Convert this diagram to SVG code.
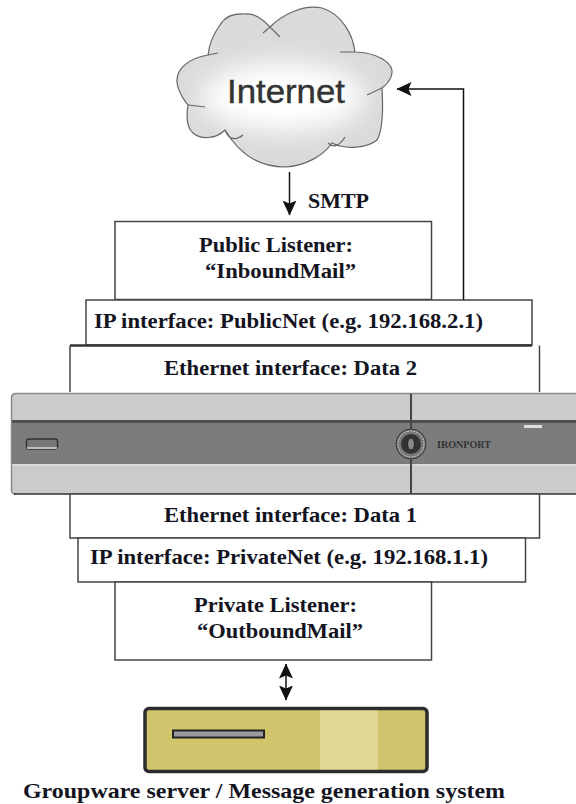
<svg xmlns="http://www.w3.org/2000/svg" width="576" height="804" viewBox="0 0 576 804">
<style>
.b{fill:#fff;stroke:#444;stroke-width:1.5}
.t{font-family:"Liberation Serif",serif;font-weight:bold;font-size:21px;fill:#14141f}
.c{fill:none;stroke:#111;stroke-width:1.5}
.k{fill:none;stroke:#666;stroke-width:1.2}
</style>
<defs>
<marker id="a" viewBox="0 0 15 14" refX="14.500" refY="7" markerWidth="15" markerHeight="14" markerUnits="userSpaceOnUse" orient="auto-start-reverse"><path d="M0 0L15 7L0 14L3 7Z" fill="#111"/></marker>
<filter id="soft" x="-30%" y="-50%" width="160%" height="200%"><feGaussianBlur stdDeviation="13"/></filter>
<clipPath id="cloudclip"><path d="M270 27C260 16 252 13 245 14C232 13 224 18 220 25C212 36 209 46 208 55C190 58 176 68 177 82C178 94 186 102 188 105C186 118 187 128 193 133C201 140 216 139 225 130C238 152 256 167 285 167C306 166 324 155 332 143C345 150 368 148 377 140C383 130 383 105 382 88C390 82 394 74 391 67C385 57 368 52 355 52C353 35 342 14 322 8C303 4 282 15 270 27Z"/></clipPath>
</defs>
<rect width="576" height="804" fill="#fff"/>
<g id="internet">
<g clip-path="url(#cloudclip)"><rect x="170" y="0" width="230" height="175" fill="#dadada"/><ellipse cx="283" cy="97" rx="82" ry="34" fill="#fff" filter="url(#soft)"/></g>
<path d="M270 27C260 16 252 13 245 14C232 13 224 18 220 25C212 36 209 46 208 55C190 58 176 68 177 82C178 94 186 102 188 105C186 118 187 128 193 133C201 140 216 139 225 130C238 152 256 167 285 167C306 166 324 155 332 143C345 150 368 148 377 140C383 130 383 105 382 88C390 82 394 74 391 67C385 57 368 52 355 52C353 35 342 14 322 8C303 4 282 15 270 27Z" class="k"/>
<path class="k" d="M263 33L270 27L280 37M208 55L218 53M188 105L205 107M225 130C228 138 234 142 243 135M328 143C332 147 338 148 345 137M367 95L382 88M340 52L355 52"/>
<text x="227" y="103" font-family="'Liberation Sans',sans-serif" font-size="33" fill="#333" stroke="#333" stroke-width="0.4" textLength="118" lengthAdjust="spacingAndGlyphs">Internet</text>
</g>
<g id="connectors">
<path class="c" d="M289.500 172V215" marker-end="url(#a)"/>
<path class="c" d="M463.500 300V89H397" marker-end="url(#a)"/>
<path class="c" d="M286 664V700" marker-start="url(#a)" marker-end="url(#a)"/>
</g>
<text class="t" x="308" y="208" textLength="61" lengthAdjust="spacingAndGlyphs">SMTP</text>
<g id="public-listener"><rect class="b" x="115" y="221.500" width="316.500" height="78"/><text class="t" x="199" y="252" textLength="154" lengthAdjust="spacingAndGlyphs">Public Listener:</text><text class="t" x="205" y="278" textLength="151" lengthAdjust="spacingAndGlyphs">“InboundMail”</text></g>
<g id="ip-public"><rect class="b" x="86" y="300" width="446" height="45"/><path d="M70 345.500H532" stroke="#333" stroke-width="2.500"/><text class="t" x="94" y="328" textLength="389" lengthAdjust="spacingAndGlyphs">IP interface: PublicNet (e.g. 192.168.2.1)</text></g>
<g id="eth-data2"><path class="b" d="M70 345.500V392M539.500 345.500V392" fill="none"/><text class="t" x="164" y="375" textLength="253" lengthAdjust="spacingAndGlyphs">Ethernet interface: Data 2</text></g>
<g id="appliance">
<path d="M576 393H16Q11 393 11 398V490Q11 494 16 494H576Z" fill="#cbcbcb"/>
<path d="M576 393.500H16Q11.500 393.500 11.500 398V490Q11.500 494 16 494" fill="none" stroke="#8a8a8a" stroke-width="1.500"/>
<path d="M576 494H14" stroke="#333" stroke-width="1.500"/>
<rect x="12" y="421" width="564" height="44" fill="#7c7c7c"/>
<rect x="12" y="420" width="564" height="3" fill="#4f4f4f"/>
<rect x="12" y="464" width="564" height="1.500" fill="#ddd"/>
<path d="M411 394V494" stroke="#444" stroke-width="2"/>
<rect x="26.500" y="439" width="31" height="10" rx="2" fill="#777" stroke="#333" stroke-width="1.500"/>
<rect x="27" y="447" width="30" height="2" fill="#bbb"/>
<rect x="524" y="425" width="18" height="3" fill="#ddd"/>
<circle cx="411" cy="444" r="15" fill="#777" stroke="#333" stroke-width="1"/>
<circle cx="411" cy="444" r="13" fill="none" stroke="#ccc" stroke-width="1" stroke-dasharray="2 1"/>
<circle cx="411" cy="444" r="10" fill="#333"/>
<ellipse cx="411" cy="444" rx="3.500" ry="6" fill="#888" stroke="#222"/>
<text x="437" y="448" font-family="'Liberation Serif',serif" font-size="10" font-weight="bold" fill="#333" textLength="54" lengthAdjust="spacingAndGlyphs">IRONPORT</text>
</g>
<g id="eth-data1"><rect class="b" x="70" y="494" width="469.500" height="44"/><text class="t" x="164" y="522" textLength="253" lengthAdjust="spacingAndGlyphs">Ethernet interface: Data 1</text></g>
<g id="ip-private"><rect class="b" x="78" y="538" width="447.500" height="44"/><text class="t" x="90" y="564" textLength="398" lengthAdjust="spacingAndGlyphs">IP interface: PrivateNet (e.g. 192.168.1.1)</text></g>
<g id="private-listener"><rect class="b" x="115" y="582" width="316.500" height="78"/><text class="t" x="194" y="612" textLength="163" lengthAdjust="spacingAndGlyphs">Private Listener:</text><text class="t" x="197" y="638" textLength="166" lengthAdjust="spacingAndGlyphs">“OutboundMail”</text></g>
<g id="groupware">
<rect x="145" y="708.500" width="282" height="63" rx="4" fill="#d0c46c"/>
<rect x="320" y="710" width="58" height="60" fill="#e0d894"/>
<rect x="145" y="708.500" width="282" height="63" rx="4" fill="none" stroke="#2c2c2c" stroke-width="3.500"/>
<rect x="173" y="730.500" width="91" height="7" fill="#9a98a0" stroke="#222" stroke-width="2"/>
<text class="t" x="23" y="798" textLength="482" lengthAdjust="spacingAndGlyphs">Groupware server / Message generation system</text>
</g>
</svg>
